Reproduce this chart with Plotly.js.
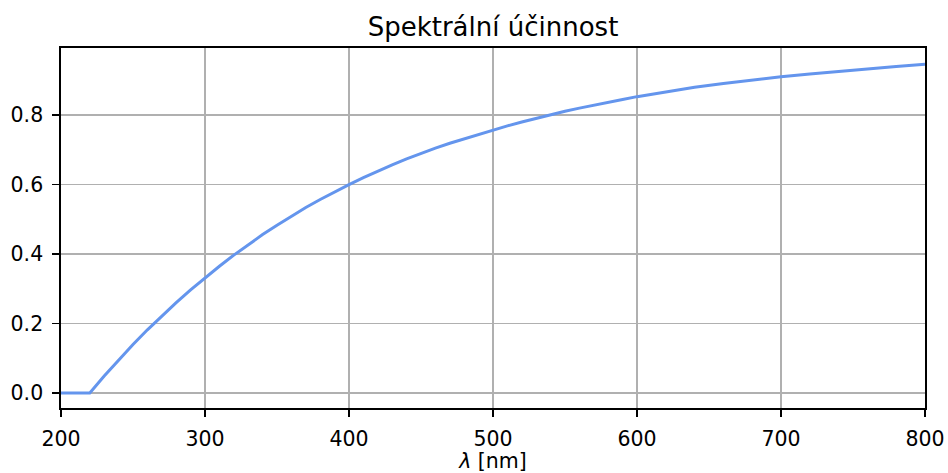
<!DOCTYPE html>
<html>
<head>
<meta charset="utf-8">
<script src="https://cdn.plot.ly/plotly-3.0.1.min.js"></script>
<style>html,body{margin:0;padding:0;background:#fff;}#chart{width:948px;height:473px;}</style>
</head>
<body>
<div id="chart"></div>
<script>
// wavelengths [nm]
const wavelength = [200, 210, 220, 230, 240, 250, 260, 270, 280, 290, 300, 310, 320, 330, 340, 350, 360,
  370, 380, 390, 400, 410, 420, 430, 440, 450, 460, 470, 480, 490, 500, 510, 520, 530, 540, 550, 560,
  570, 580, 590, 600, 620, 640, 660, 680, 700, 720, 740, 760, 780, 800];
// spectral efficiency
const efficiency = [0, 0, 0, 0.049, 0.096, 0.140, 0.182, 0.222, 0.260, 0.297, 0.332, 0.365, 0.397, 0.427,
  0.456, 0.483, 0.509, 0.534, 0.557, 0.579, 0.600, 0.620, 0.639, 0.657, 0.674, 0.690, 0.705, 0.719,
  0.732, 0.745, 0.757, 0.769, 0.780, 0.791, 0.801, 0.811, 0.820, 0.829, 0.837, 0.845, 0.853, 0.867,
  0.880, 0.891, 0.901, 0.910, 0.918, 0.926, 0.933, 0.940, 0.946];
const xTicks = [200, 300, 400, 500, 600, 700, 800];
const yTicks = [0.0, 0.2, 0.4, 0.6, 0.8];
const yTickLabels = ["0.0", "0.2", "0.4", "0.6", "0.8"];

const font = "DejaVu Sans, Liberation Sans, sans-serif";

Plotly.newPlot('chart', [{
  x: wavelength, y: efficiency, type: 'scatter', mode: 'lines',
  line: {color: '#6495ED', width: 3, shape: 'linear'}, hoverinfo: 'skip'
}], {
  width: 948, height: 473,
  margin: {l: 61, r: 23, t: 48, b: 65, pad: 0},
  paper_bgcolor: '#ffffff', plot_bgcolor: '#ffffff',
  showlegend: false,
  font: {family: font, size: 20.5, color: '#000'},
  title: {text: 'Spektrální účinnost', x: 0.5, xref: 'paper', y: 1 - 27/473, yref: 'container', yanchor: 'middle',
    font: {family: font, size: 26, color: '#000'}},
  xaxis: {
    range: [200, 800], tickmode: 'array', tickvals: xTicks, ticktext: xTicks.map(String),
    showgrid: true, gridcolor: '#b0b0b0', gridwidth: 1.7,
    showline: true, linecolor: '#000', linewidth: 1.7, mirror: true,
    ticks: 'outside', ticklen: 7, tickwidth: 1.7, tickcolor: '#000', ticklabelstandoff: 5,
    zeroline: false, automargin: false,
    tickfont: {family: font, size: 20.5, color: '#000'},
    title: {text: '<i>λ</i> [nm]', standoff: 7, font: {family: font, size: 20.5, color: '#000'}}
  },
  yaxis: {
    range: [-0.043, 0.993], tickmode: 'array', tickvals: yTicks, ticktext: yTickLabels,
    showgrid: true, gridcolor: '#b0b0b0', gridwidth: 1.7,
    showline: true, linecolor: '#000', linewidth: 1.7, mirror: true,
    ticks: 'outside', ticklen: 7, tickwidth: 1.7, tickcolor: '#000', ticklabelstandoff: 5,
    zeroline: false, automargin: false,
    tickfont: {family: font, size: 20.5, color: '#000'}
  }
}, {displayModeBar: false, staticPlot: true});
</script>
</body>
</html>
